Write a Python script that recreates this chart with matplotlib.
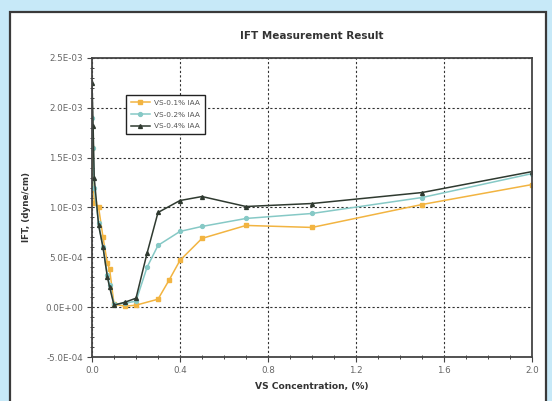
import matplotlib
matplotlib.use('Agg')
import matplotlib.pyplot as plt
from matplotlib.patches import Rectangle
from matplotlib.ticker import MultipleLocator, FuncFormatter

# values (y in units of 1E-04)
x_01 = [0, 0.01, 0.03, 0.05, 0.07, 0.08, 0.1, 0.15, 0.2, 0.3, 0.35, 0.4, 0.5, 0.7, 1.0, 1.5, 2.0]
y_01 = [16.0, 10.5, 10.0, 7.0, 4.4, 3.8, 0.3, 0.1, 0.2, 0.8, 2.7, 4.7, 6.9, 8.2, 8.0, 10.3, 12.3]

x_02 = [0, 0.005, 0.01, 0.03, 0.05, 0.07, 0.08, 0.1, 0.15, 0.2, 0.25, 0.3, 0.4, 0.5, 0.7, 1.0, 1.5, 2.0]
y_02 = [19.0, 16.0, 12.0, 8.4, 6.0, 3.2, 2.2, 0.3, 0.4, 0.6, 4.0, 6.2, 7.6, 8.1, 8.9, 9.4, 11.0, 13.4]

x_04 = [0, 0.005, 0.01, 0.03, 0.05, 0.07, 0.08, 0.1, 0.15, 0.2, 0.25, 0.3, 0.4, 0.5, 0.7, 1.0, 1.5, 2.0]
y_04 = [22.5, 18.2, 13.0, 8.2, 6.0, 3.0, 2.0, 0.2, 0.5, 0.9, 5.4, 9.5, 10.7, 11.1, 10.1, 10.4, 11.5, 13.6]

labels = ['VS-0.1% IAA', 'VS-0.2% IAA', 'VS-0.4% IAA']
colors = ['#f2b441', '#86c9c6', '#2f3a30']
markers = ['s', 'o', '^']

x_ticks = [0.0, 0.4, 0.8, 1.2, 1.6, 2.0]

fig = plt.figure(figsize=(5.52, 4.01), dpi=100)
fig.patch.set_facecolor('#c7e9f8')

panel = Rectangle((0.019, -0.02), 0.971, 0.99, transform=fig.transFigure,
                  facecolor='white', edgecolor='#3a3a3a', linewidth=1.6, zorder=-1)
fig.patches.append(panel)

ax = fig.add_axes([0.1667, 0.1097, 0.797, 0.7457])
ax.set_zorder(2)
ax.set_facecolor('white')

series = [(x_01, y_01), (x_02, y_02), (x_04, y_04)]
for (xs, ys), lab, c, m in zip(series, labels, colors, markers):
    ax.plot(xs, [v * 1e-4 for v in ys], color=c, marker=m, markersize=2.8,
            linewidth=1.1, label=lab)

ax.set_xlim(0, 2.0)
ax.set_ylim(-5e-4, 2.5e-3)
ax.set_xticks(x_ticks)
ax.xaxis.set_minor_locator(MultipleLocator(0.1))
ax.yaxis.set_major_locator(MultipleLocator(5e-4))
ax.yaxis.set_minor_locator(MultipleLocator(1e-4))
ax.xaxis.set_major_formatter(FuncFormatter(lambda v, p: '%.1f' % v))
ax.yaxis.set_major_formatter(FuncFormatter(lambda v, p: '%.1E' % (0.0 if abs(v) < 1e-12 else v)))

ax.tick_params(which='major', direction='out', length=3.5, width=0.8,
               colors='#444444', labelsize=6.3, labelcolor='#666666', pad=3)
ax.tick_params(which='minor', direction='inout', length=2.5, width=0.7, colors='#444444')

ax.grid(True, which='major', linestyle=(0, (2, 2)), color='#333333', linewidth=0.8)
for s in ax.spines.values():
    s.set_color('#444444')
    s.set_linewidth(1.3)

ax.set_title('IFT Measurement Result', fontsize=7.5, fontweight='bold', color='#333333', pad=14)
ax.set_xlabel('VS Concentration, (%)', fontsize=6.6, fontweight='bold', color='#333333', labelpad=5)
ax.set_ylabel('IFT, (dyne/cm)', fontsize=6.3, fontweight='bold', color='#333333', labelpad=10)

leg = ax.legend(loc='upper left', bbox_to_anchor=(0.068, 0.89), fontsize=5.3,
                frameon=True, fancybox=False, edgecolor='#222222', framealpha=1,
                handlelength=2.6, handletextpad=0.5, borderpad=0.7, labelspacing=0.75)
leg.get_frame().set_linewidth(1.0)
for t in leg.get_texts():
    t.set_color('#555555')

fig.savefig('out.png', dpi=100, facecolor=fig.get_facecolor())
